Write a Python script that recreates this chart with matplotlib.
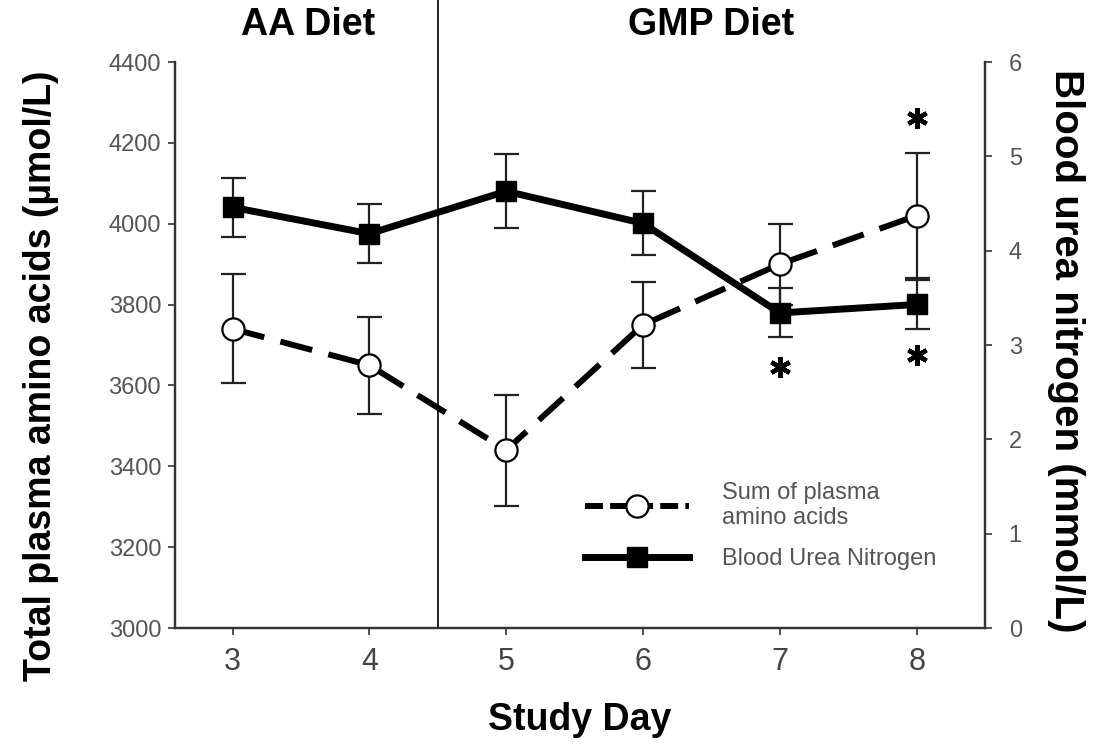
import matplotlib
matplotlib.use("Agg")
import matplotlib.pyplot as plt
from matplotlib.lines import Line2D

plt.rcParams['font.family'] = ['Liberation Sans', 'DejaVu Sans']

days = [3, 4, 5, 6, 7, 8]
aa_mean = [3740, 3650, 3440, 3750, 3900, 4020]
aa_err = [135, 120, 137, 107, 100, 155]
bun_mean = [4.46, 4.18, 4.63, 4.29, 3.34, 3.43]
bun_err = [0.31, 0.31, 0.39, 0.34, 0.26, 0.26]
star_days = [7, 8, 8]
star_aa = [3645, 3675, 4262]
phase_labels = ["AA Diet", "GMP Diet"]
phase_centers = [3.55, 6.5]
divider_day = 4.5

fig = plt.figure(figsize=(10.94, 7.48), dpi=100)
ax = fig.add_axes([0.16, 0.1604, 0.7404, 0.7567])
ax2 = ax.twinx()

ax.set_xlim(2.58, 8.5)
ax.set_ylim(3000, 4400)
ax2.set_ylim(0, 6)

spine_col = '#333333'
for a in (ax, ax2):
    a.spines['top'].set_visible(False)
    for s in ('left', 'right', 'bottom'):
        a.spines[s].set_linewidth(1.6)
        a.spines[s].set_color(spine_col)

ax.errorbar(days, aa_mean, yerr=aa_err, color='black', linewidth=4.3,
            dashes=(5.5, 2.8), marker='o', markersize=16, markerfacecolor='white',
            markeredgecolor='black', markeredgewidth=1.6, ecolor='#222222',
            elinewidth=1.6, capsize=9, capthick=1.6, zorder=3)

ax2.errorbar(days, bun_mean, yerr=bun_err, color='black', linewidth=5,
             marker='s', markersize=15, markerfacecolor='black',
             markeredgecolor='black', ecolor='#222222', elinewidth=1.6,
             capsize=9, capthick=1.6, zorder=3)

ax.plot(star_days, star_aa, linestyle='none', marker=(6, 2, 0), markersize=15,
        markeredgewidth=3.2, color='black', zorder=4)

ax.axvline(divider_day, 0, 1.11, color='#222222', linewidth=1.4, clip_on=False)

for lab, cx in zip(phase_labels, phase_centers):
    ax.text(cx, 4400 + 1400 * 0.065, lab, ha='center', va='center',
            fontsize=27, fontweight='bold')

ax.set_xticks(days)
ax.set_yticks(range(3000, 4401, 200))
ax2.set_yticks(range(0, 7))
ax.tick_params(axis='x', labelsize=22, length=5, width=1.2, colors=spine_col,
               labelcolor='#444444', pad=9)
ax.tick_params(axis='y', labelsize=17, length=5, width=1.2, colors=spine_col,
               labelcolor='#555555', pad=5)
ax2.tick_params(axis='y', labelsize=17, length=5, width=1.2, colors=spine_col,
                labelcolor='#555555', pad=12)

ax.set_xlabel("Study Day", fontsize=27, fontweight='bold', labelpad=18)
ax.set_ylabel("Total plasma amino acids (\u00b5mol/L)", fontsize=27,
              fontweight='bold', va='center')
ax.yaxis.set_label_coords(-0.166, 0.445)
ax2.set_ylabel("Blood urea nitrogen (mmol/L)", fontsize=29, fontweight='bold',
               rotation=270, va='center')
ax2.yaxis.set_label_coords(1.1, 0.49)

handles = [
    Line2D([], [], color='black', linewidth=4.3, dashes=(3, 1.2), marker='o',
           markersize=16, markerfacecolor='white', markeredgecolor='black',
           markeredgewidth=1.6),
    Line2D([], [], color='black', linewidth=5, marker='s', markersize=15,
           markerfacecolor='black'),
]
leg = ax2.legend(handles, ["Sum of plasma\namino acids", "Blood Urea Nitrogen"],
                 loc='lower left', bbox_to_anchor=(0.48, 0.065), frameon=False,
                 fontsize=17, handlelength=4.4, handletextpad=1.4,
                 labelspacing=0.8)
for t in leg.get_texts():
    t.set_color('#555555')

fig.savefig("out.png", dpi=100)
